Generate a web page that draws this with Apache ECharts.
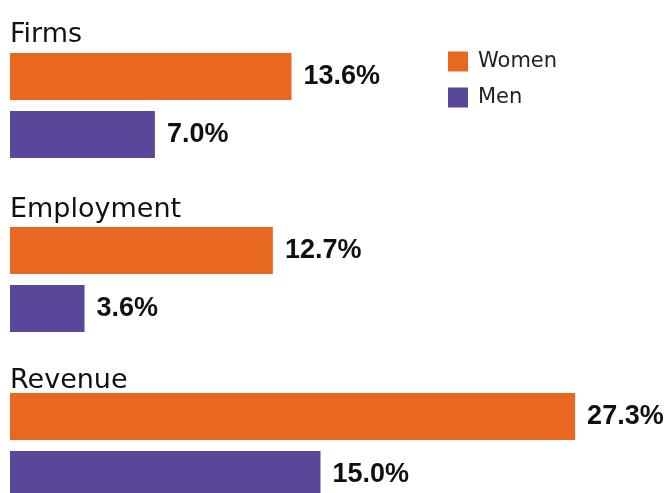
<!DOCTYPE html>
<html>
<head>
<meta charset="utf-8">
<script src="https://cdn.jsdelivr.net/npm/echarts@6/dist/echarts.min.js"></script>
<style>
  html, body { margin: 0; padding: 0; background: #fff; overflow: hidden; }
  /* 最后一组柱子在画面底部被截断, 画布稍高一点 */
  #main { width: 671px; height: 505px; }
</style>
</head>
<body>
<div id="main"></div>
<script>
// data
const categories = ['Firms', 'Employment', 'Revenue']
const women = [13.6, 12.7, 27.3]
const men = [7.0, 3.6, 15.0]

const orange = '#E96821'
const purple = '#5B4799'

const gridTops = [53, 227, 393] // 每组的上边
const titleTops = [21, 196, 367]

const myChart = echarts.init(document.getElementById('main'))

const grids = []
const xAxes = []
const yAxes = []
const titles = []
const series = []

categories.forEach(function (cat, i) {
  grids.push({ left: 10, width: 621, top: gridTops[i], height: 105 })
  xAxes.push({ type: 'value', gridIndex: i, min: 0, max: 30, show: false })
  yAxes.push({ type: 'category', gridIndex: i, data: [cat], inverse: true, show: false })
  titles.push({
    text: cat,
    left: 10,
    top: titleTops[i],
    padding: 0,
    textStyle: { fontFamily: 'DejaVu Sans', fontSize: 27, fontWeight: 'normal', color: '#111' }
  })
  const label = {
    show: true,
    position: 'right',
    distance: 12,
    fontFamily: 'Liberation Sans',
    fontWeight: 'bold',
    fontSize: 27,
    color: '#111',
    formatter: function (p) { return p.value.toFixed(1) + '%' }
  }
  series.push({
    name: 'Women', type: 'bar', xAxisIndex: i, yAxisIndex: i,
    data: [women[i]], barWidth: 47, barGap: '23%',
    itemStyle: { color: orange }, label: label
  })
  series.push({
    name: 'Men', type: 'bar', xAxisIndex: i, yAxisIndex: i,
    data: [men[i]], barWidth: 47, barGap: '23%',
    itemStyle: { color: purple }, label: label
  })
})

myChart.setOption({
  animation: false,
  backgroundColor: '#fff',
  title: titles,
  legend: {
    data: ['Women', 'Men'],
    orient: 'vertical',
    left: 448,
    top: 51,
    padding: 0,
    itemWidth: 20,
    itemHeight: 20,
    itemGap: 15,
    icon: 'rect',
    selectedMode: false,
    textStyle: { fontFamily: 'DejaVu Sans', fontSize: 21, color: '#222', padding: [0, 0, 0, 5] }
  },
  grid: grids,
  xAxis: xAxes,
  yAxis: yAxes,
  series: series
})
</script>
</body>
</html>
